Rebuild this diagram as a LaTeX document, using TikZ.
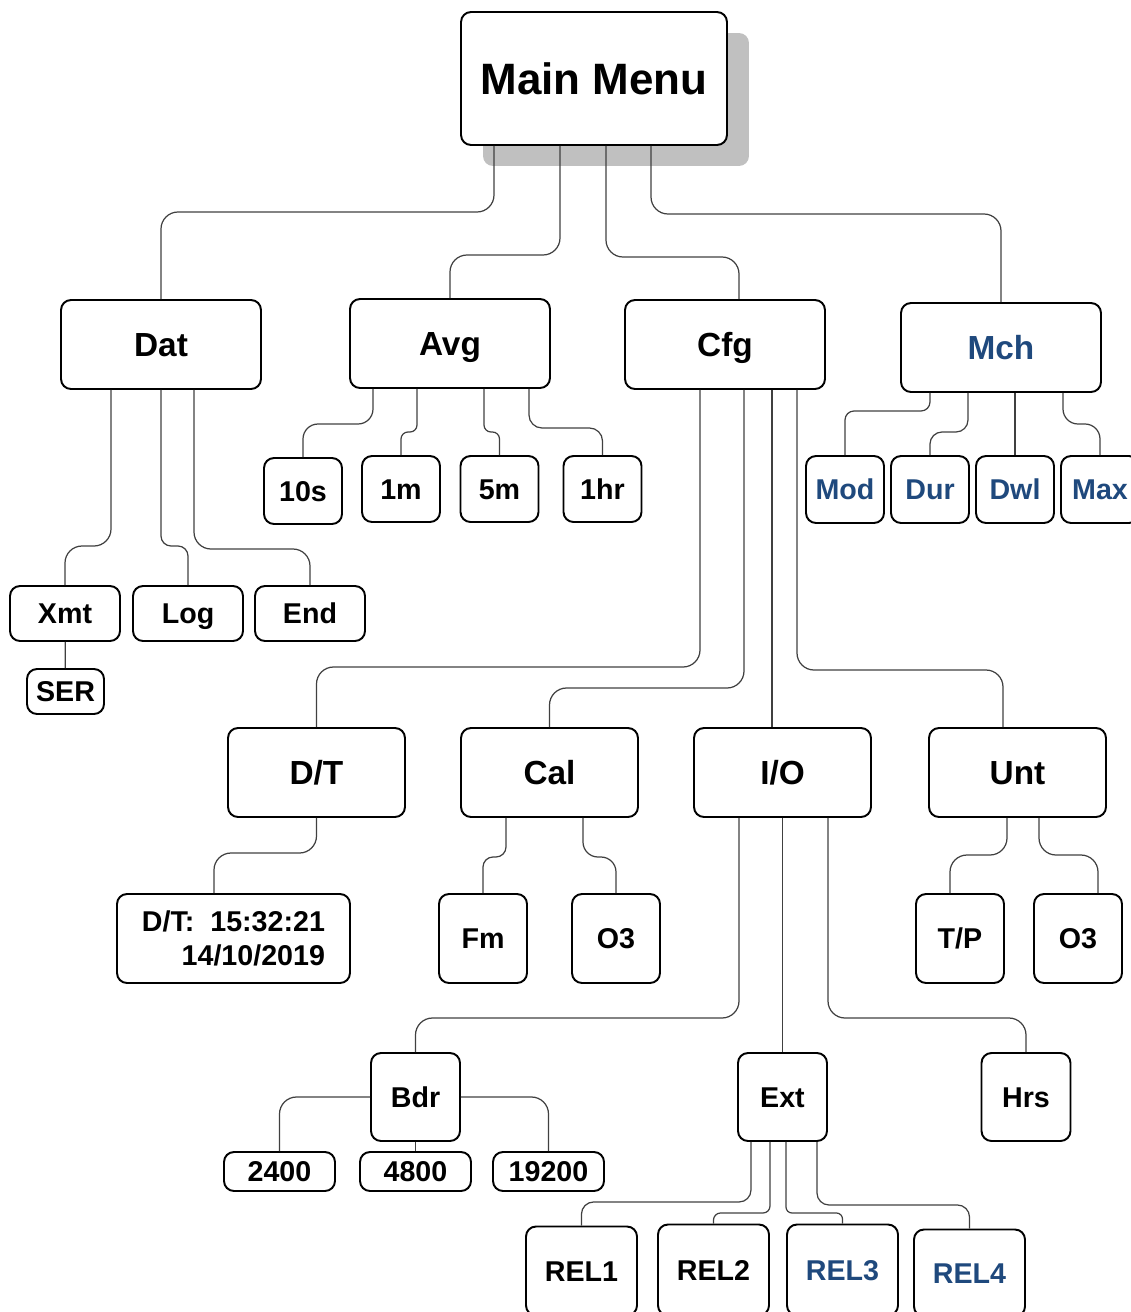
\documentclass[tikz,border=0pt]{standalone}
\usepackage{fontspec}
\setmainfont{Liberation Sans}
\usepackage{tikz}
\usetikzlibrary{shadows}
\definecolor{menublue}{RGB}{31,73,125}
\definecolor{shade}{RGB}{192,192,192}

\begin{document}
\begin{tikzpicture}[x=0.02cm, y=-0.02cm,
  anybox/.style={draw, line width=1.1pt, rounded corners=0.2cm, fill=white, inner sep=0pt, text depth=0pt},
  menubox/.style={anybox, font=\bfseries\fontsize{25}{30}\selectfont, text height=17.9pt},
  subbox/.style={anybox, font=\bfseries\fontsize{19}{23}\selectfont, text height=13.6pt},
  leafbox/.style={anybox, font=\bfseries\fontsize{16.3}{20}\selectfont, text height=11.7pt},
  hi/.style={text=menublue},
  wire/.style={draw=black!75, line width=0.7pt, rounded corners=0.34cm}]
\useasboundingbox (0,0) rectangle (1130,1312);
% top
\node[menubox, minimum width=5.32cm, minimum height=2.66cm,
  drop shadow={shadow xshift=0.44cm, shadow yshift=-0.42cm, fill=shade, opacity=1}] (main) at (594,78.5) {Main Menu};
% first level
\node[subbox, minimum width=4cm, minimum height=1.78cm] (dat) at (161,344.5) {Dat};
\node[subbox, minimum width=4cm, minimum height=1.78cm] (avg) at (450,343.5) {Avg};
\node[subbox, minimum width=4cm, minimum height=1.78cm] (cfg) at (725,344.5) {Cfg};
\node[subbox, hi, minimum width=4cm, minimum height=1.78cm] (mch) at (1001,347.5) {Mch};
% averaging and machine items
\node[leafbox, minimum width=1.56cm, minimum height=1.32cm] (a10s) at (303,491) {10s};
\node[leafbox, minimum width=1.56cm, minimum height=1.32cm] (a1m) at (401,489) {1m};
\node[leafbox, minimum width=1.56cm, minimum height=1.32cm] (a5m) at (499.5,489) {5m};
\node[leafbox, minimum width=1.56cm, minimum height=1.32cm] (a1hr) at (602.5,489) {1hr};
\node[leafbox, hi, minimum width=1.56cm, minimum height=1.34cm] (mod) at (845,489.5) {Mod};
\node[leafbox, hi, minimum width=1.56cm, minimum height=1.34cm] (dur) at (930,489.5) {Dur};
\node[leafbox, hi, minimum width=1.56cm, minimum height=1.34cm] (dwl) at (1015,489.5) {Dwl};
\node[leafbox, hi, minimum width=1.56cm, minimum height=1.34cm] (mmax) at (1100,489.5) {Max};
% data items
\node[leafbox, minimum width=2.2cm, minimum height=1.1cm] (xmt) at (65,613.5) {Xmt};
\node[leafbox, minimum width=2.2cm, minimum height=1.1cm] (dlog) at (188,613.5) {Log};
\node[leafbox, minimum width=2.2cm, minimum height=1.1cm] (dend) at (310,613.5) {End};
\node[leafbox, minimum width=1.54cm, minimum height=0.9cm] (ser) at (65.5,691.5) {SER};
% config level
\node[subbox, minimum width=3.54cm, minimum height=1.78cm] (dt) at (316.5,772.5) {D/T};
\node[subbox, minimum width=3.54cm, minimum height=1.78cm] (cal) at (549.5,772.5) {Cal};
\node[subbox, minimum width=3.54cm, minimum height=1.78cm] (io) at (782.5,772.5) {I/O};
\node[subbox, minimum width=3.54cm, minimum height=1.78cm] (unt) at (1017.5,772.5) {Unt};
\node[draw, line width=1.1pt, rounded corners=0.2cm, fill=white, align=right,
  font=\bfseries\fontsize{16.3}{19.3}\selectfont, minimum width=4.66cm, minimum height=1.78cm] (dtval) at (233.5,938.5) {D/T:\ \ 15:32:21\\14/10/2019};
\node[leafbox, minimum width=1.76cm, minimum height=1.78cm] (fm) at (483,938.5) {Fm};
\node[leafbox, minimum width=1.76cm, minimum height=1.78cm] (calo) at (616,938.5) {O3};
\node[leafbox, minimum width=1.76cm, minimum height=1.78cm] (tp) at (960,938.5) {T/P};
\node[leafbox, minimum width=1.76cm, minimum height=1.78cm] (unto) at (1078,938.5) {O3};
% i/o level
\node[leafbox, minimum width=1.78cm, minimum height=1.76cm] (bdr) at (415.5,1097) {Bdr};
\node[leafbox, minimum width=1.78cm, minimum height=1.76cm] (ext) at (782.5,1097) {Ext};
\node[leafbox, minimum width=1.78cm, minimum height=1.76cm] (hrs) at (1026,1097) {Hrs};
\node[leafbox, minimum width=2.22cm, minimum height=0.78cm] (b2400) at (279.5,1171.5) {2400};
\node[leafbox, minimum width=2.22cm, minimum height=0.78cm] (b4800) at (415.5,1171.5) {4800};
\node[leafbox, minimum width=2.22cm, minimum height=0.78cm] (b19200) at (548.5,1171.5) {19200};
\node[leafbox, minimum width=2.22cm, minimum height=1.78cm] (rel1) at (581.5,1271) {REL1};
\node[leafbox, minimum width=2.22cm, minimum height=1.82cm] (rel2) at (713.5,1270) {REL2};
\node[leafbox, hi, minimum width=2.22cm, minimum height=1.82cm] (rel3) at (842.5,1270) {REL3};
\node[leafbox, hi, minimum width=2.22cm, minimum height=1.74cm] (rel4) at (969.5,1273) {REL4};
% connectors from main menu
\draw[wire] (main.south -| 494,0) |- (161,212) -- (dat.north);
\draw[wire] (main.south -| 560,0) |- (450,255) -- (avg.north);
\draw[wire] (main.south -| 606,0) |- (739,257) -- (cfg.north -| 739,0);
\draw[wire] (main.south -| 651,0) |- (1001,214) -- (mch.north);
% data
\draw[wire] (dat.south -| 111,0) |- (65,546) -- (xmt.north);
\draw[wire, rounded corners=0.2cm] (dat.south -| 161,0) |- (188,546) -- (dlog.north);
\draw[wire] (dat.south -| 194,0) |- (310,549) -- (dend.north);
\draw[wire] (xmt) -- (ser);
% averaging
\draw[wire, rounded corners=0.3cm] (avg.south -| 373,0) |- (303,424) -- (a10s.north);
\draw[wire, rounded corners=0.14cm] (avg.south -| 417,0) |- (401,432) -- (a1m.north);
\draw[wire, rounded corners=0.14cm] (avg.south -| 484,0) |- (499.5,432) -- (a5m.north);
\draw[wire, rounded corners=0.26cm] (avg.south -| 529,0) |- (602.5,428) -- (a1hr.north);
% machine
\draw[wire, rounded corners=0.18cm] (mch.south -| 930,0) |- (845,411) -- (mod.north);
\draw[wire, rounded corners=0.24cm] (mch.south -| 968,0) |- (930,432) -- (dur.north);
\draw[wire] (mch.south -| dwl.north) -- (dwl.north);
\draw[wire, rounded corners=0.3cm] (mch.south -| 1063,0) |- (1100,424) -- (mmax.north);
% config
\draw[wire] (cfg.south -| 700,0) |- (316.5,667) -- (dt.north);
\draw[wire] (cfg.south -| 744,0) |- (549.5,688) -- (cal.north);
\draw[wire] (cfg.south -| 772,0) -- (io.north -| 772,0);
\draw[wire] (cfg.south -| 797,0) |- (1003,670) -- (unt.north -| 1003,0);
\draw[wire] (dt.south) |- (214,853) -- (dtval.north -| 214,0);
\draw[wire, rounded corners=0.2cm] (cal.south -| 506,0) |- (483,857) -- (fm.north);
\draw[wire, rounded corners=0.3cm] (cal.south -| 583,0) |- (616,857) -- (calo.north);
\draw[wire] (unt.south -| 1007,0) |- (950,855) -- (tp.north -| 950,0);
\draw[wire] (unt.south -| 1039,0) |- (1098,855) -- (unto.north -| 1098,0);
% i/o
\draw[wire] (io.south -| 739,0) |- (415.5,1018) -- (bdr.north);
\draw[wire] (io) -- (ext);
\draw[wire] (io.south -| 828,0) |- (1026,1018) -- (hrs.north);
\draw[wire] (bdr.west) -| (b2400.north);
\draw[wire] (bdr) -- (b4800);
\draw[wire] (bdr.east) -| (b19200.north);
\draw[wire, rounded corners=0.24cm] (ext.south -| 751,0) |- (581.5,1202) -- (rel1.north);
\draw[wire, rounded corners=0.14cm] (ext.south -| 770,0) |- (713.5,1213) -- (rel2.north);
\draw[wire, rounded corners=0.12cm] (ext.south -| 786,0) |- (842.5,1213) -- (rel3.north);
\draw[wire, rounded corners=0.24cm] (ext.south -| 817,0) |- (969.5,1205) -- (rel4.north);
\end{tikzpicture}
\end{document}
